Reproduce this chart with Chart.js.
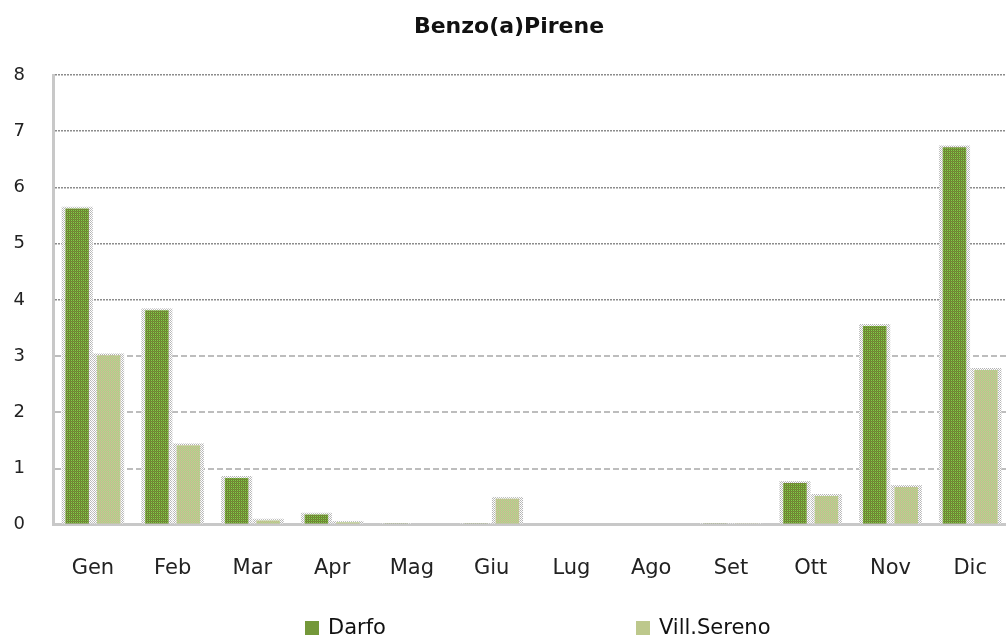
<!DOCTYPE html>
<html><head><meta charset="utf-8">
<script src="https://cdn.jsdelivr.net/npm/chart.js@4.4.0/dist/chart.umd.min.js"></script>
<style>
html,body{margin:0;padding:0;background:#fff;overflow:hidden}
#wrap{position:relative;width:1006px;height:639px;overflow:hidden}
#c{display:block}
#legend{position:absolute;left:305px;top:614px;display:flex;gap:250px;font-family:"DejaVu Sans",sans-serif;font-size:21px;line-height:26px;color:#111}
.item{display:flex;align-items:center;white-space:nowrap}
.box{width:14px;height:14px;margin-right:9px;margin-top:2px}
</style></head><body>
<div id="wrap"><canvas id="c" width="1018" height="639"></canvas><div id="legend"></div></div>
<script>
const categories = ['Gen','Feb','Mar','Apr','Mag','Giu','Lug','Ago','Set','Ott','Nov','Dic'];
const darfo      = [5.66, 3.85, 0.87, 0.22, 0.03, 0.03, 0, 0, 0.03, 0.78, 3.57, 6.75];
const villSereno = [3.05, 1.45, 0.11, 0.07, 0, 0.50, 0, 0, 0.03, 0.55, 0.71, 2.79];
const seriesLabels = ['Darfo', 'Vill.Sereno'];
const chartTitle = 'Benzo(a)Pirene';
const yMin = 0, yMax = 8, yStep = 1;

function makePattern(colors) {
  const p = document.createElement('canvas');
  p.width = 2; p.height = 2;
  const g = p.getContext('2d');
  g.fillStyle = colors[0]; g.fillRect(0,0,1,1);
  g.fillStyle = colors[1]; g.fillRect(1,0,1,1);
  g.fillStyle = colors[2]; g.fillRect(0,1,1,1);
  g.fillStyle = colors[3]; g.fillRect(1,1,1,1);
  return document.getElementById('c').getContext('2d').createPattern(p, 'repeat');
}
const darfoFill = makePattern(['#5e8e2c','#8cc04c','#84803e','#62922e']);
const villFill  = makePattern(['#c8c490','#a8d488','#bcc090','#c6c892']);
const frameFill = makePattern(['#b4b4b4','#ffffff','#ffffff','#c0c0c0']);
const legendSwatch = ['#74983a', '#bdc88c'];

const barBorder = {left: 4, right: 4, top: 2, bottom: 0};

const chart = new Chart(document.getElementById('c'), {
  type: 'bar',
  data: {
    labels: categories,
    datasets: [
      {label: seriesLabels[0], data: darfo, backgroundColor: darfoFill, borderColor: frameFill, borderWidth: barBorder, borderSkipped: false},
      {label: seriesLabels[1], data: villSereno, backgroundColor: villFill, borderColor: frameFill, borderWidth: barBorder, borderSkipped: false}
    ]
  },
  options: {
    responsive: false,
    animation: false,
    layout: {padding: {left: 0, right: 0, top: 0, bottom: 27}},
    datasets: {bar: {categoryPercentage: 0.79, barPercentage: 1.0}},
    plugins: {
      legend: {display: false},
      tooltip: {enabled: false},
      title: {
        display: true, text: chartTitle, color: '#111',
        font: {family: 'DejaVu Sans', size: 22, weight: 'bold'},
        padding: {top: 14, bottom: 34.6}
      }
    },
    scales: {
      x: {
        grid: {display: false, drawTicks: false},
        border: {display: true, color: '#c8c8c8', width: 3},
        ticks: {color: '#222', padding: 31, font: {family: 'DejaVu Sans', size: 21}}
      },
      y: {
        min: yMin, max: yMax,
        afterFit: (s) => { s.width = 53; },
        grid: {
          drawTicks: false,
          color: (ctx) => {
            if (!ctx.tick || ctx.tick.value === 0) return 'rgba(0,0,0,0)';
            return ctx.tick.value >= 4 ? '#8c8c8c' : '#bdbdbd';
          },
          lineWidth: (ctx) => (ctx.tick && ctx.tick.value < 4) ? 2 : 1.5
        },
        border: {
          display: true, color: '#c8c8c8', width: 3,
          dash: (ctx) => {
            if (!ctx.tick) return [];
            return ctx.tick.value >= 4 ? [2, 1] : [6, 3];
          }
        },
        ticks: {stepSize: yStep, color: '#222', padding: 28, font: {family: 'DejaVu Sans', size: 18}}
      }
    }
  }
});

const legend = document.getElementById('legend');
chart.data.datasets.forEach((ds, i) => {
  const item = document.createElement('div'); item.className = 'item';
  const box = document.createElement('span'); box.className = 'box'; box.style.background = legendSwatch[i];
  const txt = document.createElement('span'); txt.textContent = ds.label;
  item.appendChild(box); item.appendChild(txt); legend.appendChild(item);
});
</script>
</body></html>
